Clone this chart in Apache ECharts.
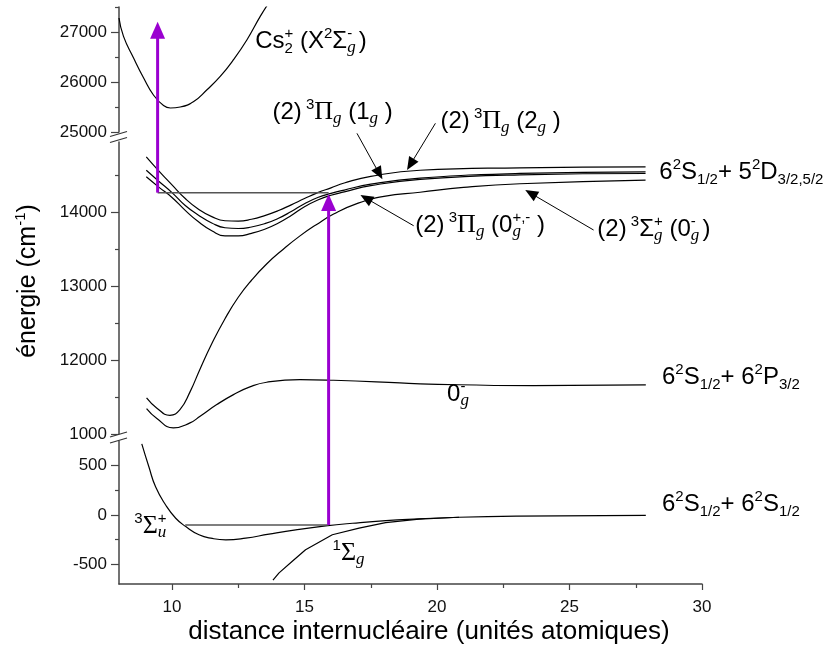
<!DOCTYPE html>
<html>
<head>
<meta charset="utf-8">
<script src="https://cdn.jsdelivr.net/npm/echarts@6/dist/echarts.min.js"></script>
<style>
  html, body { margin: 0; padding: 0; background: #fff; }
  #chart { width: 829px; height: 653px; }
</style>
</head>
<body>
<div id="chart"></div>
<script>
// --- valeurs (distance en u.a., énergie en cm-1) ---

// Cs2+ (X2Σg-), panneau du haut
const ionX = [8.0, 8.17, 8.55, 8.93, 9.30, 9.68, 9.94, 10.31, 10.82, 11.32, 11.82, 12.32, 12.83, 13.33, 13.65];
const ionY = [27280, 26912, 26480, 26080, 25740, 25530, 25480, 25500, 25612, 25846, 26112, 26446, 26846, 27312, 27580];

// (2)3Πg : trois courbes vers 6S + 5D
const pi1X = [9.03, 9.5, 10.0, 10.5, 11.0, 11.5, 12.0, 12.5, 13.0, 13.5, 14.0, 14.5, 15.0, 15.5, 16.0, 16.5, 17.5, 19.36, 23.13, 27.87];
const pi1Y = [14750, 14560, 14370, 14185, 14040, 13940, 13885, 13880, 13905, 13955, 14020, 14100, 14185, 14265, 14330, 14395, 14485, 14568, 14601, 14614];
const pi2X = [9.03, 9.5, 10.0, 10.5, 11.0, 11.5, 12.0, 12.5, 13.0, 13.5, 14.0, 14.5, 15.0, 15.5, 16.0, 16.5, 17.5, 19.36, 23.13, 27.87];
const pi2Y = [14568, 14420, 14265, 14090, 13960, 13855, 13790, 13780, 13800, 13845, 13915, 14010, 14115, 14200, 14255, 14300, 14380, 14460, 14525, 14547];
const pi0X = [9.03, 9.5, 10.0, 10.5, 11.0, 11.5, 12.0, 12.5, 13.0, 13.5, 14.0, 14.5, 15.0, 15.5, 16.0, 16.5, 17.5, 19.36, 23.13, 27.87];
const pi0Y = [14479, 14340, 14200, 14025, 13870, 13750, 13680, 13680, 13715, 13770, 13850, 13955, 14075, 14165, 14230, 14275, 14360, 14445, 14505, 14524];

// (2)3Σg+ (0g-)
const sigX = [9.04, 9.42, 9.92, 10.3, 10.68, 11.06, 11.5, 12.0, 12.5, 13.0, 13.57, 14.2, 14.83, 15.46, 16.1, 17.0, 18.0, 19.36, 21.0, 23.13, 27.87];
const sigY = [11488, 11353, 11253, 11330, 11570, 11880, 12220, 12560, 12850, 13080, 13300, 13500, 13680, 13835, 13975, 14120, 14215, 14270, 14335, 14385, 14433];

// 0g- vers 6S + 6P3/2
const p32X = [9.04, 9.43, 10.05, 10.68, 11.06, 11.69, 12.32, 12.94, 13.57, 14.83, 16.1, 18.6, 19.36, 23.63, 27.88];
const p32Y = [11344, 11210, 11083, 11150, 11240, 11398, 11533, 11637, 11700, 11736, 11727, 11691, 11678, 11655, 11664];

// panneau du bas : 3Σu+ et 1Σg
const triX = [8.86, 9.13, 9.38, 9.76, 10.14, 10.52, 11.02, 11.52, 12.03, 12.78, 13.66, 14.67, 15.8, 16.81, 18.07, 19.32, 20.83, 23.0, 27.88];
const triY = [721, 486, 285, 101, -33, -118, -201, -238, -252, -235, -194, -151, -111, -84, -57, -40, -23, -12, -5];
const sinX = [13.81, 14.04, 14.54, 15.04, 16.05, 17.06, 18.06, 19.32, 20.83];
const sinY = [-661, -587, -470, -352, -201, -134, -77, -43, -23];

// niveaux horizontaux (gris)
const levelMidX = [9.457, 15.91];
const levelMidY = [14265, 14265];
const levelLowX = [10.5, 15.91];
const levelLowY = [-101, -101];

// graduations
const xTicks = [10, 15, 20, 25, 30];
const xTickLabels = ['10', '15', '20', '25', '30'];
const xMinor = [12.5, 17.5, 22.5, 27.5];
const topTicks = [25000, 26000, 27000];
const topLabels = ['25000', '26000', '27000'];
const topMinor = [25500, 26500, 27500];
const midTicks = [11000, 12000, 13000, 14000];
const midLabels = ['1000', '12000', '13000', '14000'];
const midMinor = [11500, 12500, 13500, 14500];
const lowTicks = [-500, 0, 500];
const lowLabels = ['-500', '0', '500'];
const lowMinor = [-250, 250];

// --- mise en page ---
const SANS = 'Liberation Sans, Arial, sans-serif';
const SERIF = 'Liberation Serif, Times New Roman, serif';
const axisColor = '#444';
const purple = '#9a00d0';

const chart = echarts.init(document.getElementById('chart'));

function mainY(g, min, max, ticks, labels) {
  return {
    gridIndex: g, type: 'value', min: min, max: max, position: 'left',
    axisLine: { show: true, onZero: false, lineStyle: { color: axisColor, width: 1.5 } },
    axisTick: { show: true, customValues: ticks, length: 8, lineStyle: { color: axisColor, width: 1.2 } },
    axisLabel: {
      customValues: ticks, margin: 12, fontSize: 17, color: '#111', fontFamily: SANS,
      formatter: v => labels[ticks.indexOf(v)]
    },
    splitLine: { show: false }
  };
}
function minorY(g, min, max, ticks) {
  return {
    gridIndex: g, type: 'value', min: min, max: max, position: 'left',
    axisLine: { show: false, onZero: false },
    axisTick: { show: true, customValues: ticks, length: 4, lineStyle: { color: axisColor, width: 1.2 } },
    axisLabel: { show: false },
    splitLine: { show: false }
  };
}
function curve(g, xs, ys, smooth, color, width) {
  return {
    type: 'line', xAxisIndex: g, yAxisIndex: g,
    data: xs.map((x, i) => [x, ys[i]]),
    showSymbol: false, symbol: 'none', smooth: smooth,
    lineStyle: { color: color || '#000', width: width || 1.2 },
    silent: true, animation: false
  };
}

const option = {
  animation: false,
  textStyle: { fontFamily: SANS },
  grid: [
    { left: 119, right: 127, top: 7, height: 125 },
    { left: 119, right: 127, top: 142, height: 292 },
    { left: 119, right: 127, top: 441, height: 143 }
  ],
  xAxis: [
    { gridIndex: 0, type: 'value', min: 8, max: 30, show: false },
    { gridIndex: 1, type: 'value', min: 8, max: 30, show: false },
    {
      gridIndex: 2, type: 'value', min: 8, max: 30, position: 'bottom',
      axisLine: { show: true, onZero: false, lineStyle: { color: axisColor, width: 1.5 } },
      axisTick: { show: true, customValues: xTicks, length: 6, lineStyle: { color: axisColor, width: 1.2 } },
      axisLabel: {
        customValues: xTicks, margin: 15, fontSize: 17, color: '#111', fontFamily: SANS,
        formatter: v => xTickLabels[xTicks.indexOf(v)]
      },
      splitLine: { show: false }
    },
    {
      gridIndex: 2, type: 'value', min: 8, max: 30, position: 'bottom',
      axisLine: { show: false, onZero: false },
      axisTick: { show: true, customValues: xMinor, length: 4, lineStyle: { color: axisColor, width: 1.2 } },
      axisLabel: { show: false },
      splitLine: { show: false }
    }
  ],
  yAxis: [
    mainY(0, 25000, 27500, topTicks, topLabels),
    mainY(1, 11000, 14950, midTicks, midLabels),
    mainY(2, -700, 750, lowTicks, lowLabels),
    minorY(0, 25000, 27500, topMinor),
    minorY(1, 11000, 14950, midMinor),
    minorY(2, -700, 750, lowMinor)
  ],
  series: [
    curve(0, ionX, ionY, 0.5),
    curve(1, pi1X, pi1Y, 0.5),
    curve(1, pi2X, pi2Y, 0.5),
    curve(1, pi0X, pi0Y, 0.5),
    curve(1, sigX, sigY, 0.5),
    curve(1, p32X, p32Y, 0.5),
    curve(1, levelMidX, levelMidY, false, '#555', 1.5),
    curve(2, triX, triY, 0.5),
    curve(2, sinX, sinY, false),
    curve(2, levelLowX, levelLowY, false, '#555', 1.5)
  ]
};
chart.setOption(option);

// --- annotations ---
const toPx = (g, x, y) => chart.convertToPixel({ xAxisIndex: g, yAxisIndex: g }, [x, y]);

// flèches violettes (excitation), d'un panneau à l'autre
const pumpArrows = [
  { x: 9.457, base: [1, 14265], tip: [0, 27206] },
  { x: 15.91, base: [2, -101], tip: [1, 14245] }
];
// flèches noires vers les courbes (panneau du milieu)
const stateArrows = [
  { from: [16.98, 15067], to: [17.94, 14445] },
  { from: [19.94, 15203], to: [18.87, 14571] },
  { from: [19.12, 13817], to: [17.11, 14233] },
  { from: [25.91, 13759], to: [23.33, 14300] }
];

const rich = {
  n: { fontSize: 24, fontFamily: SANS, lineHeight: 30 },
  p: { fontSize: 15, fontFamily: SANS, lineHeight: 15, verticalAlign: 'top' },
  b: { fontSize: 15, fontFamily: SANS, lineHeight: 12, verticalAlign: 'bottom' },
  bz: { fontSize: 15, fontFamily: SANS, lineHeight: 12, verticalAlign: 'bottom', width: 0 },
  G: { fontSize: 26, fontFamily: SERIF, lineHeight: 30 },
  g: { fontSize: 17, fontFamily: SERIF, fontStyle: 'italic', lineHeight: 12, verticalAlign: 'bottom' },
  gz: { fontSize: 17, fontFamily: SERIF, fontStyle: 'italic', lineHeight: 12, verticalAlign: 'bottom', width: 0 }
};
const labels = [
  { g: 0, at: [13.14, 26820], text: '{n|Cs}{bz|2}{p|+}{n| (X}{p|2}{n|Σ}{gz|g}{p|-}{n| )}' },
  { g: 0, at: [13.79, 25400], text: '{n|(2)}{p| 3}{G|Π}{g|g}{n| (1}{g|g}{n| )}' },
  { g: 0, at: [20.13, 25220], text: '{n|(2)}{p| 3}{G|Π}{g|g}{n| (2}{g|g}{n| )}' },
  { g: 1, at: [19.18, 13827], text: '{n|(2)}{p| 3}{G|Π}{g|g}{n| (0}{gz|g}{p|+,-}{n| )}' },
  { g: 1, at: [26.05, 13773], text: '{n|(2)}{p| 3}{n|Σ}{gz|g}{p|+}{n| (0}{gz|g}{p|-}{n| )}' },
  { g: 1, at: [28.39, 14544], text: '{n|6}{p|2}{n|S}{b|1/2}{n|+ 5}{p|2}{n|D}{b|3/2,5/2}' },
  { g: 1, at: [28.49, 11764], text: '{n|6}{p|2}{n|S}{b|1/2}{n|+ 6}{p|2}{n|P}{b|3/2}' },
  { g: 2, at: [28.49, 112], text: '{n|6}{p|2}{n|S}{b|1/2}{n|+ 6}{p|2}{n|S}{b|1/2}' },
  { g: 1, at: [20.38, 11541], text: '{n|0}{gz|g}{p|-}' },
  { g: 2, at: [8.58, -112], text: '{p|3}{G|Σ}{gz|u}{p|+}' },
  { g: 2, at: [16.06, -385], text: '{p|1}{G|Σ}{g|g}' }
];

function arrow(p0, p1, len, w, color, lw) {
  const dx = p1[0] - p0[0], dy = p1[1] - p0[1];
  const d = Math.hypot(dx, dy), ux = dx / d, uy = dy / d;
  const bx = p1[0] - ux * len, by = p1[1] - uy * len;
  const nx = -uy * w / 2, ny = ux * w / 2;
  return [
    { type: 'line', z: 100, shape: { x1: p0[0], y1: p0[1], x2: bx + ux, y2: by + uy },
      style: { stroke: color, lineWidth: lw } },
    { type: 'polygon', z: 100, shape: { points: [[p1[0], p1[1]], [bx + nx, by + ny], [bx - nx, by - ny]] },
      style: { fill: color } }
  ];
}
// coupure de l'axe : deux traits obliques
function axisBreak(ax, yMid) {
  const x0 = ax - 9, x1 = ax + 8;
  return [
    { type: 'polygon', z: 100, shape: { points: [[x0, yMid - 0.5], [x1, yMid - 5.5], [x1, yMid + 0.5], [x0, yMid + 5.5]] },
      style: { fill: '#fff' } },
    { type: 'line', z: 101, shape: { x1: x0, y1: yMid - 0.5, x2: x1, y2: yMid - 5.5 }, style: { stroke: '#333', lineWidth: 1.2 } },
    { type: 'line', z: 101, shape: { x1: x0, y1: yMid + 5.5, x2: x1, y2: yMid + 0.5 }, style: { stroke: '#333', lineWidth: 1.2 } }
  ];
}

const els = [];
pumpArrows.forEach(a => {
  const p0 = toPx(a.base[0], a.x, a.base[1]);
  const p1 = toPx(a.tip[0], a.x, a.tip[1]);
  els.push(...arrow(p0, p1, 17, 15, purple, 3));
});
stateArrows.forEach(a => {
  els.push(...arrow(toPx(1, a.from[0], a.from[1]), toPx(1, a.to[0], a.to[1]), 13, 11, '#000', 1));
});

const topBottom = toPx(0, 8, 25000), midTop = toPx(1, 8, 14950);
const midBottom = toPx(1, 8, 11000), lowTop = toPx(2, 8, 750);
els.push(...axisBreak(topBottom[0], (topBottom[1] + midTop[1]) / 2));
els.push(...axisBreak(midBottom[0], (midBottom[1] + lowTop[1]) / 2));

labels.forEach(l => {
  const p = toPx(l.g, l.at[0], l.at[1]);
  els.push({
    type: 'text', z: 100, x: p[0], y: p[1],
    style: { text: l.text, rich: rich, fill: '#000', fontSize: 24, fontFamily: SANS, align: 'left', verticalAlign: 'middle' }
  });
});

// titres des axes
els.push({
  type: 'text', z: 100, x: 429, y: 632,
  style: { text: 'distance internucléaire (unités atomiques)', fill: '#000', fontSize: 26, fontFamily: SANS,
    align: 'center', verticalAlign: 'middle' }
});
els.push({
  type: 'text', z: 100, x: 28, y: 281, rotation: Math.PI / 2,
  style: {
    text: '{t|énergie (cm}{s|-1}{t|)}', fill: '#000', fontSize: 25, fontFamily: SANS,
    align: 'center', verticalAlign: 'middle',
    rich: {
      t: { fontSize: 25, fontFamily: SANS, lineHeight: 30 },
      s: { fontSize: 15, fontFamily: SANS, lineHeight: 15, verticalAlign: 'top' }
    }
  }
});

chart.setOption({ graphic: { elements: els } });
</script>
</body>
</html>
